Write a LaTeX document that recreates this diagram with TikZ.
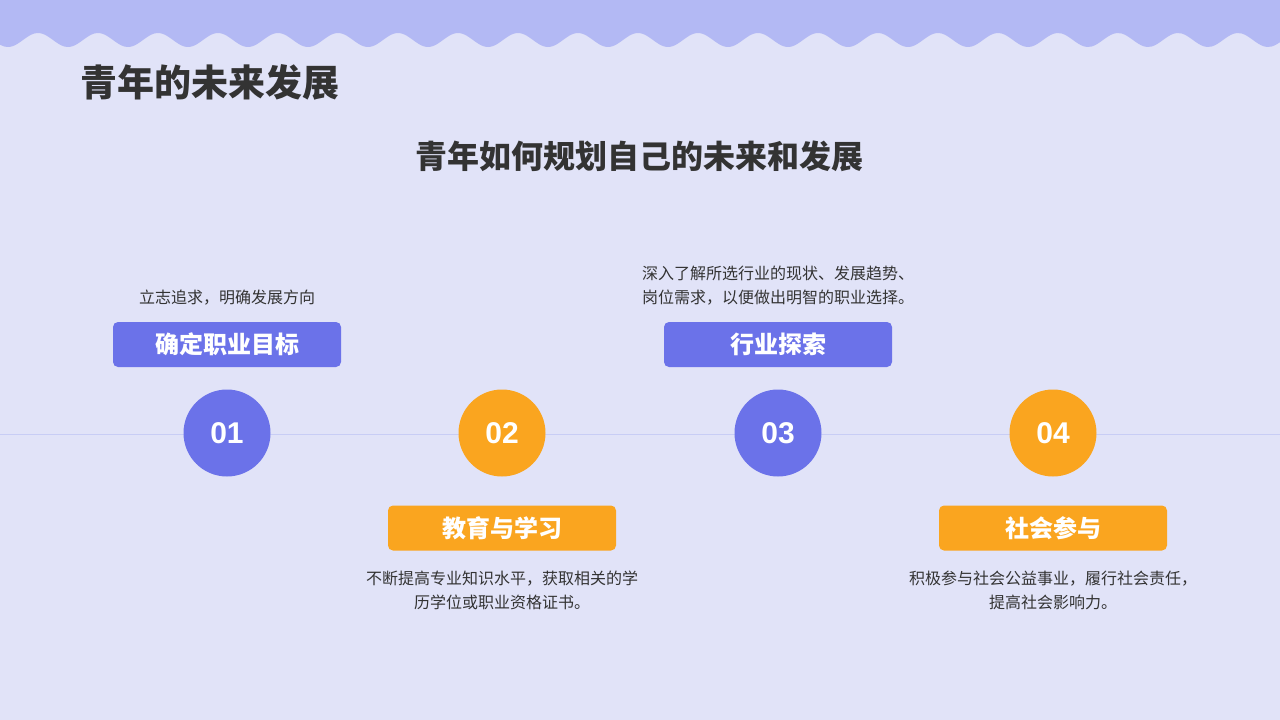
\documentclass[tikz,border=0pt]{standalone}
\usepackage{fontspec}
\setmainfont{Noto Sans CJK SC}
\newfontfamily\numfont{Liberation Sans}
\usetikzlibrary{positioning}
\definecolor{bgfill}{HTML}{E1E3F8}
\definecolor{bandfill}{HTML}{B3B9F4}
\definecolor{stepblue}{HTML}{6B72E9}
\definecolor{steporange}{HTML}{FAA51F}
\definecolor{axisline}{HTML}{C8CDF5}
\definecolor{darktext}{HTML}{333333}
\tikzset{
  numdisk/.style={circle,minimum size=87pt,inner sep=0pt,text=white,
    font=\fontsize{30}{30}\numfont\bfseries},
  tagbox/.style={rounded corners=5pt,minimum width=228pt,minimum height=45pt,
    inner sep=0pt,text=white,font=\fontsize{24}{26}\selectfont\bfseries},
  notetext/.style={text=darktext,align=center,inner sep=0pt,
    font=\fontsize{16}{24}\selectfont}
}
\begin{document}
\begin{tikzpicture}[x=1pt,y=-1pt]
% page and top band
\fill[bgfill] (0,0) rectangle (1280,720);
\useasboundingbox (0,0) rectangle (1280,720);
\fill[bandfill] (0,0) -- (0,{40-7*cos(6*(0-38))})
  -- plot[domain=0:1280,samples=300,smooth] (\x,{40-7*cos(6*(\x-38))})
  -- (1280,0) -- cycle;
% headings
\node[anchor=west,text=darktext,inner sep=0pt,font=\fontsize{37}{40}\selectfont\bfseries]
  (title) at (80,82) {青年的未来发展};
\node[text=darktext,inner sep=0pt,font=\fontsize{32}{34}\selectfont\bfseries]
  (subtitle) at (639,156) {青年如何规划自己的未来和发展};
% time line
\coordinate (lineW) at (0,434);
\coordinate (lineE) at (1280,434);
\draw[axisline,line width=1pt] (lineW) -- (lineE);
% step disks
\node[numdisk,fill=stepblue] (d1) at (227,433) {01};
\node[numdisk,fill=steporange] (d2) at (502,433) {02};
\node[numdisk,fill=stepblue] (d3) at (778,433) {03};
\node[numdisk,fill=steporange] (d4) at (1053,433) {04};
% tags above and below
\node[tagbox,fill=stepblue] (t1) at (227,344.5) {确定职业目标};
\node[tagbox,fill=steporange] (t2) at (502,528) {教育与学习};
\node[tagbox,fill=stepblue] (t3) at (778,344.5) {行业探索};
\node[tagbox,fill=steporange] (t4) at (1053,528) {社会参与};
% notes
\node[notetext] (n1) at (227,298) {立志追求，明确发展方向};
\node[notetext] (n2) at (502,590) {不断提高专业知识水平，获取相关的学\\历学位或职业资格证书。};
\node[notetext] (n3) at (778,286) {深入了解所选行业的现状、发展趋势、\\岗位需求，以便做出明智的职业选择。};
\node[notetext] (n4) at (1053,590) {积极参与社会公益事业，履行社会责任，\\提高社会影响力。};
\end{tikzpicture}
\end{document}
